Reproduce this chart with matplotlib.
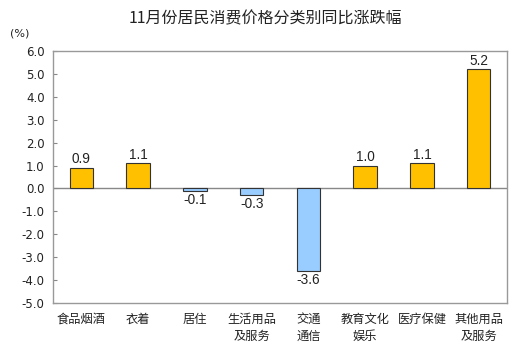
import matplotlib
matplotlib.use("Agg")
import matplotlib.pyplot as plt

plt.rcParams['font.family'] = ['Noto Sans CJK SC', 'DejaVu Sans']

categories = ["食品烟酒", "衣着", "居住", "生活用品\n及服务", "交通\n通信", "教育文化\n娱乐", "医疗保健", "其他用品\n及服务"]
values = [0.9, 1.1, -0.1, -0.3, -3.6, 1.0, 1.1, 5.2]
yticks = [6.0, 5.0, 4.0, 3.0, 2.0, 1.0, 0.0, -1.0, -2.0, -3.0, -4.0, -5.0]
title = "11月份居民消费价格分类别同比涨跌幅"

fig = plt.figure(figsize=(5.26, 3.63), dpi=100)
ax = fig.add_axes([53/526, 1-303/363, 454/526, 252/363])

colors = ['#FFC000' if v >= 0 else '#99CCFF' for v in values]
x = list(range(len(categories)))
ax.bar(x, values, width=0.41, color=colors, edgecolor='#333333', linewidth=0.8, zorder=3)
ax.axhline(0, color='#888888', linewidth=1, zorder=2)

for xi, v in zip(x, values):
    if v >= 0:
        ax.text(xi, v + 0.06, f"{v:.1f}", ha='center', va='bottom', fontsize=9.8,
                family=['Liberation Sans'], color='#222222')
    else:
        ax.text(xi, v - 0.08, f"{v:.1f}", ha='center', va='top', fontsize=9.8,
                family=['Liberation Sans'], color='#222222')

ax.set_xlim(-0.5, len(categories) - 0.5)
ax.set_ylim(-5.0, 6.0)
ax.set_yticks(yticks)
ax.set_yticklabels([f"{t:.1f}" for t in yticks], fontsize=8.5, family=['DejaVu Sans'], color='#222222')
ax.tick_params(axis='y', direction='in', length=3, color='#888888', pad=6)
ax.set_xticks(x)
ax.set_xticklabels(categories, fontsize=8.8, color='#222222', linespacing=1.45, va='top')
ax.tick_params(axis='x', length=0, pad=7)
for s in ax.spines.values():
    s.set_color('#999999')
    s.set_linewidth(1)

fig.text(265/526, 1-19/363, title, ha='center', va='center', fontsize=11.5, color='#222222')
fig.text(20/526, 1-34/363, "(%)", ha='center', va='center', fontsize=8, family=['DejaVu Sans'], color='#222222')

fig.savefig("out.png", dpi=100)
